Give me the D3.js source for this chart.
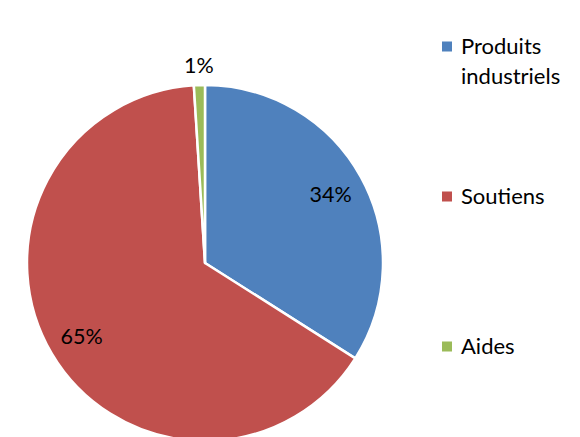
<!DOCTYPE html>
<html>
<head>
<meta charset="utf-8">
<script src="https://cdn.jsdelivr.net/npm/d3@7"></script>
<style>
  html, body { margin: 0; padding: 0; background: #fff; }
  svg { display: block; }
  text { font-family: Lato, "Open Sans", sans-serif; fill: #000; }
</style>
</head>
<body>
<svg id="chart" width="580" height="437"></svg>
<script>
const categories = ["Produits industriels", "Soutiens", "Aides"];
const legendLines = [["Produits", "industriels"], ["Soutiens"], ["Aides"]];
const values = [34, 65, 1];
const colors = ["#4F81BD", "#C0504D", "#9BBB59"];

const W = 580, H = 437;
const cx = 205, cy = 263, R = 178;
const svg = d3.select("#chart");

const pie = d3.pie().value(d => d).sort(null);
const arcs = pie(values);
const total = d3.sum(values);

const arc = d3.arc().innerRadius(0).outerRadius(R);
const labelArcIn = d3.arc().innerRadius(R * 0.805).outerRadius(R * 0.805);
const labelArcOut = d3.arc().innerRadius(R * 1.11).outerRadius(R * 1.11);

const g = svg.append("g").attr("transform", `translate(${cx},${cy})`);
g.selectAll("path.slice")
  .data(arcs)
  .join("path")
  .attr("class", "slice")
  .attr("d", arc)
  .attr("fill", (d, i) => colors[i])
  .attr("stroke", "#fff")
  .attr("stroke-width", 2.5)
  .attr("stroke-linejoin", "round");

g.selectAll("text.lbl")
  .data(arcs)
  .join("text")
  .attr("class", "lbl")
  .attr("transform", d => {
    const share = d.value / total;
    const c = (share < 0.05 ? labelArcOut : labelArcIn).centroid(d);
    return `translate(${c[0]},${c[1]})`;
  })
  .attr("text-anchor", "middle")
  .attr("dy", "0.36em")
  .attr("font-size", 21.5)
  .text(d => Math.round(d.value / total * 100) + "%");

// legend
const legendY = d3.scalePoint().domain(categories).range([53.5, 353.5]);
const lg = svg.append("g");
categories.forEach((c, i) => {
  const y = legendY(c);
  lg.append("rect")
    .attr("x", 442).attr("y", y - 12)
    .attr("width", 10).attr("height", 10)
    .attr("fill", colors[i]);
  const t = lg.append("text")
    .attr("x", 461).attr("y", y)
    .attr("font-size", 22);
  legendLines[i].forEach((line, j) => {
    t.append("tspan").attr("x", 461).attr("dy", j === 0 ? 0 : 30).text(line);
  });
});
</script>
</body>
</html>
